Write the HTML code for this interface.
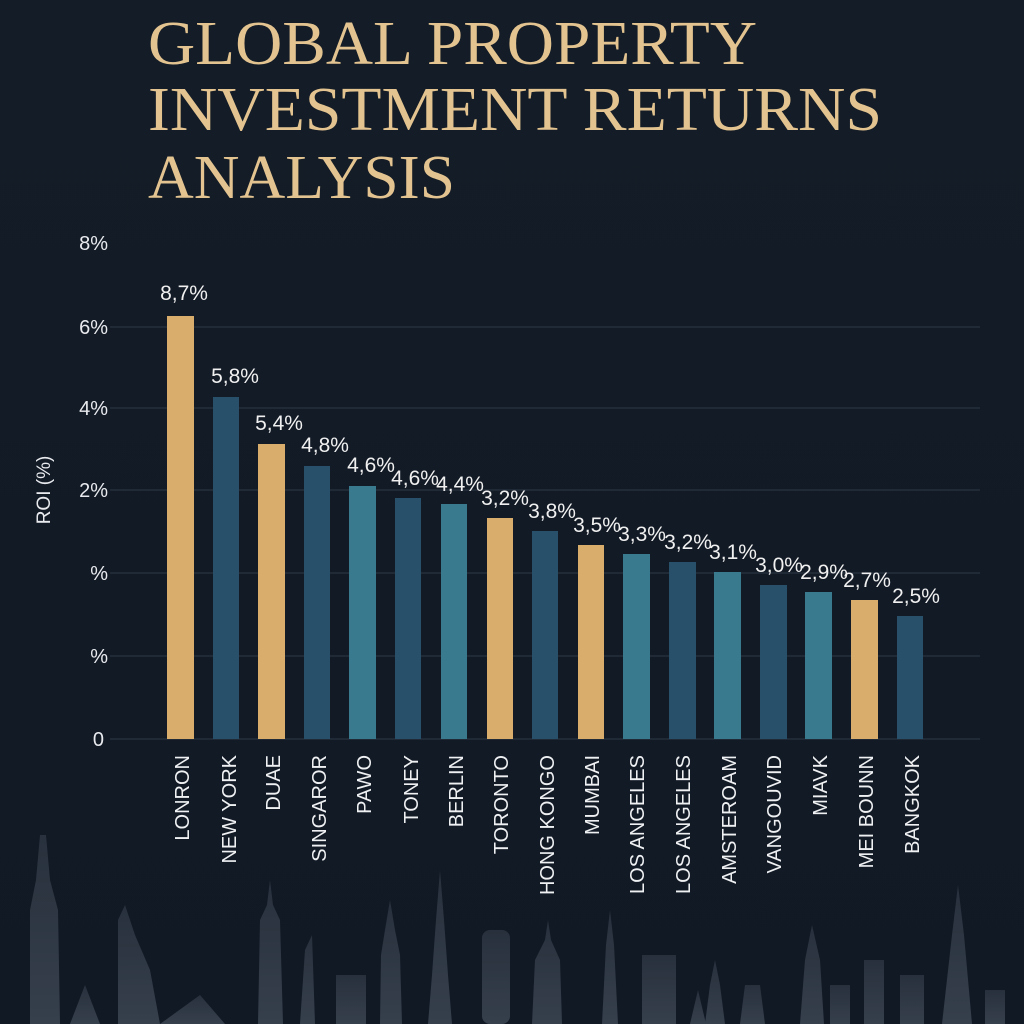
<!DOCTYPE html>
<html><head><meta charset="utf-8"><style>
html,body{margin:0;padding:0;background:#141c27;}
svg{display:block}
</style></head><body>
<svg width="1024" height="1024" viewBox="0 0 1024 1024" xmlns="http://www.w3.org/2000/svg">
<defs>
<linearGradient id="bg" x1="0" y1="0" x2="0" y2="1"><stop offset="0" stop-color="#141c27"/><stop offset="1" stop-color="#111925"/></linearGradient>
<linearGradient id="sk" x1="0" y1="0" x2="0" y2="1"><stop offset="0" stop-color="#2c3541"/><stop offset="1" stop-color="#3d4753"/></linearGradient>
</defs>
<rect width="1024" height="1024" fill="url(#bg)"/>
<g font-family="Liberation Serif, serif" fill="#e3c490" font-size="62">
<text x="148" y="64" textLength="609" lengthAdjust="spacingAndGlyphs">GLOBAL PROPERTY</text>
<text x="148" y="130" textLength="734" lengthAdjust="spacingAndGlyphs">INVESTMENT RETURNS</text>
<text x="148" y="198" textLength="307" lengthAdjust="spacingAndGlyphs">ANALYSIS</text>
</g>
<g stroke="#2e3946" stroke-width="1">
<line x1="110" y1="327" x2="980" y2="327"/>
<line x1="110" y1="408" x2="980" y2="408"/>
<line x1="110" y1="490" x2="980" y2="490"/>
<line x1="110" y1="573" x2="980" y2="573"/>
<line x1="110" y1="656" x2="980" y2="656"/>
<line x1="110" y1="739" x2="980" y2="739"/>
</g>
<g font-family="Liberation Sans, sans-serif" fill="#e8eaee" font-size="20" text-anchor="end">
<text x="108" y="250">8%</text>
<text x="108" y="334">6%</text>
<text x="108" y="415">4%</text>
<text x="108" y="497">2%</text>
<text x="108" y="580">%</text>
<text x="108" y="663">%</text>
<text x="104" y="746">0</text>
</g>
<text transform="translate(50,490) rotate(-90)" text-anchor="middle" font-family="Liberation Sans, sans-serif" font-size="19" fill="#e8eaee">ROI (%)</text>
<g>
<rect x="167" y="316" width="27" height="423" fill="#d9ad6c"/>
<rect x="213" y="397" width="26" height="342" fill="#29506a"/>
<rect x="258" y="444" width="27" height="295" fill="#d9ad6c"/>
<rect x="304" y="466" width="26" height="273" fill="#29506a"/>
<rect x="349" y="486" width="27" height="253" fill="#3a7a8e"/>
<rect x="395" y="498" width="26" height="241" fill="#29506a"/>
<rect x="441" y="504" width="26" height="235" fill="#3a7a8e"/>
<rect x="487" y="518" width="26" height="221" fill="#d9ad6c"/>
<rect x="532" y="531" width="26" height="208" fill="#29506a"/>
<rect x="578" y="545" width="26" height="194" fill="#d9ad6c"/>
<rect x="623" y="554" width="27" height="185" fill="#3a7a8e"/>
<rect x="669" y="562" width="27" height="177" fill="#29506a"/>
<rect x="714" y="572" width="27" height="167" fill="#3a7a8e"/>
<rect x="760" y="585" width="27" height="154" fill="#29506a"/>
<rect x="805" y="592" width="27" height="147" fill="#3a7a8e"/>
<rect x="851" y="600" width="27" height="139" fill="#d9ad6c"/>
<rect x="897" y="616" width="26" height="123" fill="#29506a"/>
</g>
<g font-family="Liberation Sans, sans-serif" fill="#f0f0f0" font-size="21" text-anchor="middle">
<text x="184" y="300">8,7%</text>
<text x="235" y="383">5,8%</text>
<text x="279" y="430">5,4%</text>
<text x="325" y="452">4,8%</text>
<text x="371" y="472">4,6%</text>
<text x="415" y="485">4,6%</text>
<text x="460" y="491">4,4%</text>
<text x="505" y="505">3,2%</text>
<text x="552" y="518">3,8%</text>
<text x="597" y="532">3,5%</text>
<text x="642" y="541">3,3%</text>
<text x="688" y="549">3,2%</text>
<text x="733" y="559">3,1%</text>
<text x="779" y="572">3,0%</text>
<text x="824" y="579">2,9%</text>
<text x="867" y="587">2,7%</text>
<text x="916" y="603">2,5%</text>
</g>
<g font-family="Liberation Sans, sans-serif" fill="#eef0f2" font-size="20" text-anchor="end">
<text transform="translate(189,755) rotate(-90)">LONRON</text>
<text transform="translate(236,755) rotate(-90)">NEW YORK</text>
<text transform="translate(280,755) rotate(-90)">DUAE</text>
<text transform="translate(326,755) rotate(-90)">SINGAROR</text>
<text transform="translate(371,755) rotate(-90)">PAWO</text>
<text transform="translate(418,755) rotate(-90)">TONEY</text>
<text transform="translate(463,755) rotate(-90)">BERLIN</text>
<text transform="translate(508,755) rotate(-90)">TORONTO</text>
<text transform="translate(554,755) rotate(-90)">HONG KONGO</text>
<text transform="translate(599,755) rotate(-90)">MUMBAI</text>
<text transform="translate(644,755) rotate(-90)">LOS ANGELES</text>
<text transform="translate(690,755) rotate(-90)">LOS ANGELES</text>
<text transform="translate(736,755) rotate(-90)">AMSTEROAM</text>
<text transform="translate(781,755) rotate(-90)">VANGOUVID</text>
<text transform="translate(827,755) rotate(-90)">MIAVK</text>
<text transform="translate(873,755) rotate(-90)">MEI BOUNN</text>
<text transform="translate(919,755) rotate(-90)">BANGKOK</text>
</g>
<g fill="url(#sk)" opacity="0.85">
<polygon points="30,1024 30,910 36,880 40,835 46,835 50,880 58,910 60,1024"/>
<polygon points="70,1024 85,985 100,1024"/>
<polygon points="118,1024 118,920 125,905 135,935 150,970 160,1024"/>
<polygon points="160,1024 200,995 225,1024"/>
<polygon points="258,1024 260,920 267,905 270,880 273,905 280,920 283,1024"/>
<polygon points="300,1024 305,950 312,935 315,1024"/>
<rect x="336" y="975" width="30" height="49"/>
<polygon points="380,1024 381,955 385,930 390,900 395,930 400,955 402,1024"/>
<polygon points="428,1024 432,975 436,920 440,870 444,920 448,975 452,1024"/>
<rect x="482" y="930" width="28" height="94" rx="8"/>
<polygon points="532,1024 535,960 545,940 548,920 551,940 560,960 562,1024"/>
<polygon points="602,1024 606,945 610,910 614,945 618,1024"/>
<rect x="642" y="955" width="34" height="69"/>
<polygon points="690,1024 698,990 706,1024"/>
<polygon points="705,1024 710,985 715,960 720,985 725,1024"/>
<polygon points="740,1024 745,985 760,985 765,1024"/>
<polygon points="800,1024 805,960 812,925 820,960 824,1024"/>
<rect x="830" y="985" width="20" height="39"/>
<rect x="864" y="960" width="20" height="64"/>
<rect x="900" y="975" width="24" height="49"/>
<polygon points="942,1024 952,935 958,885 964,935 972,1024"/>
<rect x="985" y="990" width="20" height="34"/>
</g>
</svg>
</body></html>
